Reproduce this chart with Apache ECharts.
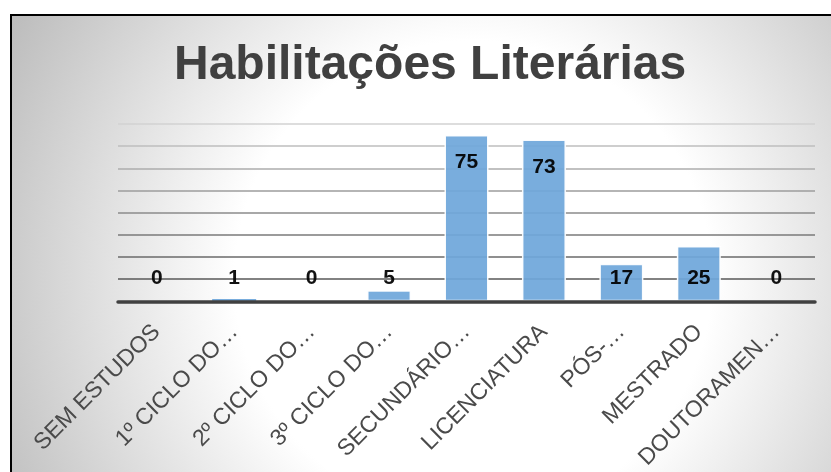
<!DOCTYPE html>
<html lang="pt">
<head>
    <meta charset="UTF-8">
    <title>Habilitações Literárias</title>
    <script src="https://cdn.jsdelivr.net/npm/echarts@6/dist/echarts.min.js"></script>
    <style>
        html, body { margin: 0; padding: 0; background: #fff; }
        #chart { width: 831px; height: 472px; }
    </style>
</head>
<body>
    <div id="chart"></div>
    <script>
        // dados
        var categorias = ['SEM ESTUDOS', '1º CICLO DO…', '2º CICLO DO…', '3º CICLO DO…', 'SECUNDÁRIO…', 'LICENCIATURA', 'PÓS-…', 'MESTRADO', 'DOUTORAMEN…'];
        var valores = [0, 1, 0, 5, 75, 73, 17, 25, 0];
        var titulo = 'Habilitações Literárias';

        // cores das linhas de grelha, de baixo (0) para cima (80)
        var coresGrelha = ['#404040', '#595959', '#6a6a6a', '#7a7a7a', '#8b8b8b', '#9c9c9c', '#adadad', '#bebebe', '#d2d2d2'];

        var dados = valores.map(function (v) {
            var alto = v >= 40;
            return {
                value: v,
                // barras muito baixas ficam sem contorno branco para não tapar o eixo
                itemStyle: { borderWidth: v >= 3 ? 1.5 : 0 },
                label: alto
                    ? { position: 'insideTop', distance: 17 }
                    : { position: 'insideBottom', distance: 13 }
            };
        });

        var myChart = echarts.init(document.getElementById('chart'));
        var option = {
            animation: false,
            graphic: [{
                type: 'rect',
                z: -10,
                silent: true,
                shape: { x: 11, y: 15, width: 840, height: 480 },
                style: {
                    fill: {
                        type: 'radial', x: 0.55, y: 0.55, r: 1.1,
                        colorStops: [
                            { offset: 0, color: '#ffffff' },
                            { offset: 0.45, color: '#ffffff' },
                            { offset: 1, color: '#bcbcbc' }
                        ]
                    },
                    stroke: '#000',
                    lineWidth: 2
                }
            }],
            title: {
                text: titulo,
                left: 174,
                top: 42,
                padding: 0,
                textStyle: {
                    fontFamily: 'Liberation Sans, Arial, sans-serif',
                    fontSize: 48,
                    fontWeight: 'bold',
                    color: '#404040'
                }
            },
            grid: { left: 118, right: 16, top: 124, bottom: 168 },
            xAxis: {
                type: 'category',
                data: categorias,
                z: 3,
                axisLine: { lineStyle: { color: '#404040', width: 3.5 } },
                axisTick: { show: false },
                axisLabel: {
                    interval: 0,
                    rotate: 45,
                    margin: 27,
                    fontFamily: 'Liberation Sans, Arial, sans-serif',
                    fontSize: 23,
                    color: '#4a4a4a'
                }
            },
            yAxis: {
                type: 'value',
                min: 0,
                max: 80,
                interval: 10,
                axisLine: { show: false },
                axisTick: { show: false },
                axisLabel: { show: false },
                splitLine: { lineStyle: { color: coresGrelha, width: 1.6 } }
            },
            series: [{
                type: 'bar',
                data: dados,
                barWidth: 44,
                itemStyle: {
                    color: '#6fa7da',
                    borderColor: '#ffffff',
                    opacity: 0.93
                },
                label: {
                    show: true,
                    color: '#000',
                    fontFamily: 'Liberation Sans, Arial, sans-serif',
                    fontWeight: 'bold',
                    fontSize: 21
                }
            }]
        };
        myChart.setOption(option);
    </script>
</body>
</html>
